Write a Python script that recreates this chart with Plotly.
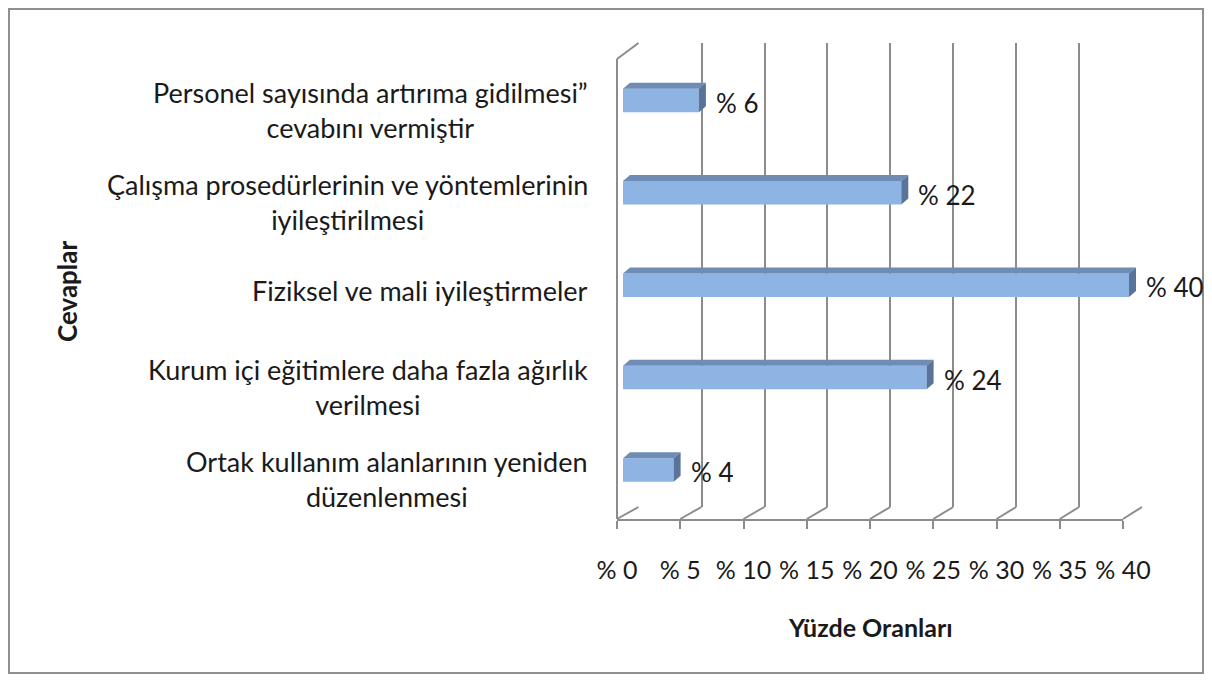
import plotly.graph_objects as go

# ---------------- data ----------------
categories = [
    ["Personel sayısında artırıma gidilmesi”", "cevabını vermiştir"],
    ["Çalışma prosedürlerinin ve yöntemlerinin", "iyileştirilmesi"],
    ["Fiziksel ve mali iyileştirmeler"],
    ["Kurum içi eğitimlere daha fazla ağırlık", "verilmesi"],
    ["Ortak kullanım alanlarının yeniden", "düzenlenmesi"],
]
values = [6, 22, 40, 24, 4]
tick_values = [0, 5, 10, 15, 20, 25, 30, 35, 40]
tick_labels = ["% " + str(v) for v in tick_values]
value_labels = ["% " + str(v) for v in values]
x_title = "Yüzde Oranları"
y_title = "Cevaplar"

# ---------------- layout helpers ----------------
# the page body has an 8px margin on every side, so the figure is sized to fit
OX, OY = 8, 8
W, H = 1212 - 2 * OX, 682 - 2 * OY
def px(x):
    return (x - OX) / W
def py(y):
    return 1 - (y - OY) / H

FONT = "Lato"
TXT = "#1a1a1a"
GRID = "#8c8c8c"
FRONT = "#8DB4E2"
TOP = "#6E8CB4"
SIDE = "#5A7399"

# front floor axis (x / y)
fx0, fx1 = 617, 1123
floor_front_y = 519
# back wall axis (x2 / y2)
bx0, bx1 = 638.5, 1142
wall_top, wall_bottom = 43, 507
# bars axis (x3 / y3)
bar_left = 623
bar_top_c, bar_bot_c = 100.5, 470
n = len(values)
step = (bar_bot_c - bar_top_c) / (n - 1)
unit = (fx1 - fx0) / 40.0
x3_off = (bar_left - fx0) / unit
x3_right = 1200                       # extra room right of the bars for labels
x3_max = (x3_right - fx0) / unit - x3_off
bar_w = 23.5 / step
dx = 7 / unit
dy = 6 / step

def front_x(v):
    return fx0 + (fx1 - fx0) * v / 40.0
def back_x(v):
    return bx0 + (bx1 - bx0) * v / 40.0

fig = go.Figure()

# empty traces so that the frame subplots get drawn
fig.add_trace(go.Scatter(x=[], y=[], xaxis="x", yaxis="y", hoverinfo="skip"))
fig.add_trace(go.Scatter(x=[], y=[], xaxis="x2", yaxis="y2", hoverinfo="skip"))

ypos = list(range(n))
fig.add_trace(go.Bar(
    x=values, y=ypos, orientation="h", width=bar_w,
    marker=dict(color=FRONT, line=dict(width=0)),
    xaxis="x3", yaxis="y3", hoverinfo="x",
))

shapes = []
# outer border
shapes.append(dict(type="rect", xref="paper", yref="paper",
                   x0=px(9), x1=px(1203), y0=py(673), y1=py(9),
                   line=dict(color="#8f8f8f", width=2), layer="below"))
# left wall edges
shapes.append(dict(type="line", xref="paper", yref="paper",
                   x0=px(fx0), y0=py(floor_front_y), x1=px(fx0), y1=py(59),
                   line=dict(color=GRID, width=2), layer="below"))
shapes.append(dict(type="line", xref="paper", yref="paper",
                   x0=px(fx0), y0=py(59), x1=px(back_x(0)), y1=py(wall_top),
                   line=dict(color=GRID, width=2), layer="below"))
# floor diagonals
for v in tick_values:
    shapes.append(dict(type="line", xref="paper", yref="paper",
                       x0=px(back_x(v)), y0=py(wall_bottom),
                       x1=px(front_x(v)), y1=py(floor_front_y),
                       line=dict(color=GRID, width=2), layer="below"))
# 3D bar faces
for i, v in enumerate(values):
    yt = i - bar_w / 2
    yb = i + bar_w / 2
    top = (f"M 0 {yt} L {v} {yt} L {v+dx} {yt-dy} L {dx} {yt-dy} Z")
    side = (f"M {v} {yt} L {v+dx} {yt-dy} L {v+dx} {yb-dy} L {v} {yb} Z")
    shapes.append(dict(type="path", xref="x3", yref="y3", path=top,
                       fillcolor=TOP, line=dict(width=0)))
    shapes.append(dict(type="path", xref="x3", yref="y3", path=side,
                       fillcolor=SIDE, line=dict(width=0)))

annotations = []
for i, v in enumerate(values):
    annotations.append(dict(x=v, y=i, xref="x3", yref="y3", text=value_labels[i],
                            showarrow=False, xanchor="left", yanchor="middle",
                            xshift=15, yshift=-2,
                            font=dict(family=FONT, size=26, color=TXT)))
for i, lines in enumerate(categories):
    annotations.append(dict(x=px(590), y=i, xref="paper", yref="y3",
                            text="<br>".join(lines), align="center",
                            showarrow=False, xanchor="right", yanchor="middle",
                            yshift=-9 if len(lines) > 1 else -5,
                            font=dict(family=FONT, size=27, color=TXT)))
annotations.append(dict(x=px(870), y=py(627), xref="paper", yref="paper",
                        text="<b>" + x_title + "</b>", showarrow=False,
                        xanchor="center", yanchor="middle",
                        font=dict(family=FONT, size=25, color=TXT)))
annotations.append(dict(x=px(67), y=py(292), xref="paper", yref="paper",
                        text="<b>" + y_title + "</b>", showarrow=False,
                        textangle=-90, xanchor="center", yanchor="middle",
                        font=dict(family=FONT, size=26, color=TXT)))

fig.update_layout(
    width=W, height=H,
    margin=dict(l=0, r=0, t=0, b=0, autoexpand=False),
    paper_bgcolor="white", plot_bgcolor="rgba(0,0,0,0)",
    showlegend=False,
    shapes=shapes, annotations=annotations,
    xaxis=dict(domain=[px(fx0), px(fx1)], range=[0, 40], anchor="y",
               tickvals=tick_values, ticktext=tick_labels,
               ticks="outside", ticklen=8, tickwidth=2, tickcolor=GRID,
               showline=True, linecolor=GRID, linewidth=2,
               showgrid=False, zeroline=False, ticklabelstandoff=20,
               automargin=False,
               tickfont=dict(family=FONT, size=25, color=TXT), fixedrange=True),
    yaxis=dict(domain=[py(floor_front_y), py(59)], range=[0, 1], anchor="x",
               showticklabels=False, showgrid=False, zeroline=False,
               showline=False, ticks="", automargin=False, fixedrange=True),
    xaxis2=dict(domain=[px(bx0), px(bx1)], range=[-0.02, 40.02], anchor="y2",
                tickvals=tick_values, showticklabels=False, ticks="",
                showgrid=True, gridcolor=GRID, gridwidth=2, automargin=False,
                showline=False, zeroline=False, fixedrange=True),
    yaxis2=dict(domain=[py(wall_bottom), py(wall_top)], range=[0, 1], anchor="x2",
                showticklabels=False, showgrid=False, zeroline=False, automargin=False,
                showline=False, ticks="", fixedrange=True),
    xaxis3=dict(domain=[px(fx0), px(x3_right)], range=[-x3_off, x3_max], anchor="y3",
                visible=False, fixedrange=True),
    yaxis3=dict(domain=[py(bar_bot_c + step / 2), py(bar_top_c - step / 2)],
                range=[n - 0.5, -0.5], anchor="x3", visible=False, fixedrange=True),
)

fig.write_html("out.html", config={"displayModeBar": False})
